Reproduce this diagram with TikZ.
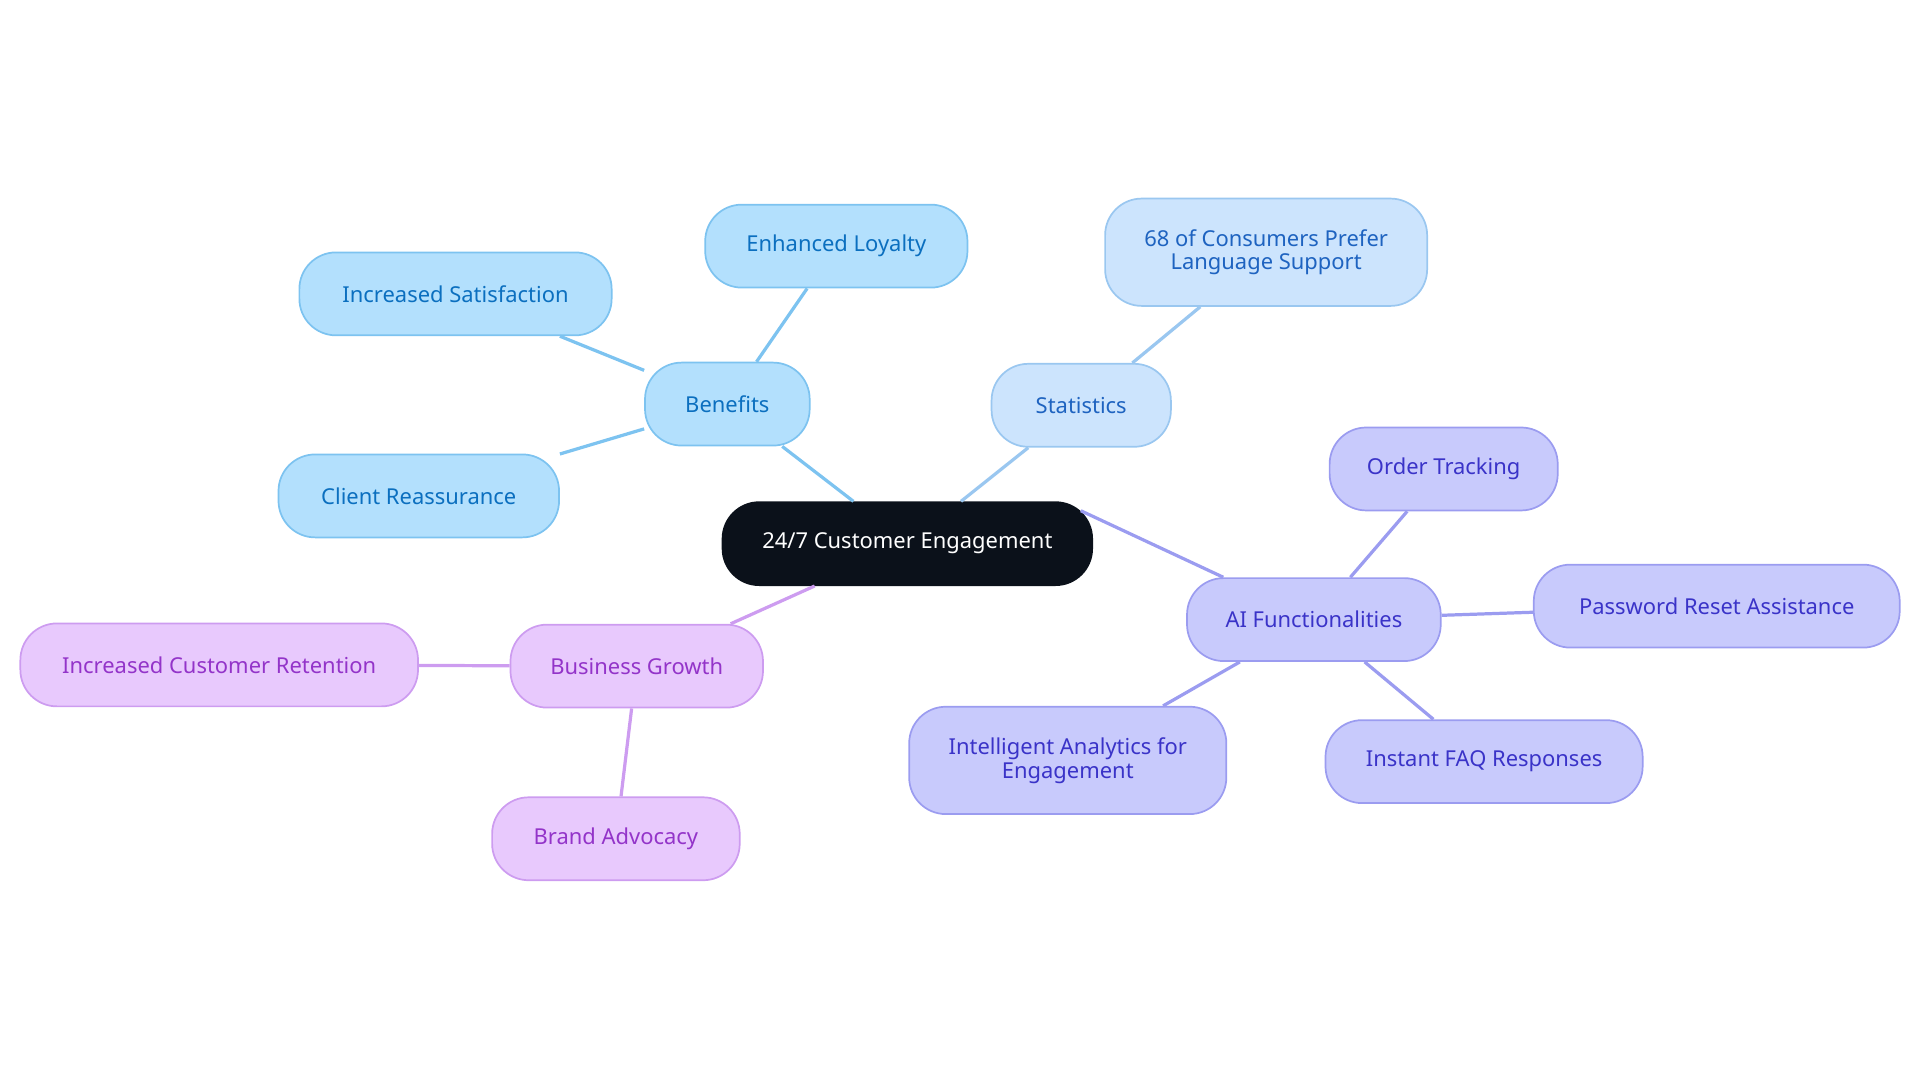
\documentclass[tikz,border=0pt]{standalone}
\usepackage{fontspec}
\setmainfont{Noto Sans}
\definecolor{bF}{HTML}{B3E0FD}\definecolor{bD}{HTML}{7DC3F0}\definecolor{bT}{HTML}{0B6FBF}
\definecolor{sF}{HTML}{CCE4FD}\definecolor{sD}{HTML}{9AC7F0}\definecolor{sT}{HTML}{1E63C0}
\definecolor{pF}{HTML}{C8CAFC}\definecolor{pD}{HTML}{9B9CF0}\definecolor{pT}{HTML}{3A33C8}
\definecolor{kF}{HTML}{E8C9FD}\definecolor{kD}{HTML}{CD9CF0}\definecolor{kT}{HTML}{9334C9}
\definecolor{cF}{HTML}{0B111A}
\begin{document}
\begin{tikzpicture}[x=0.02cm,y=-0.02cm,
 box/.style={rounded corners=30*0.567pt,draw,line width=0.8pt,align=center,font=\fontsize{10.2}{11}\selectfont,inner sep=0pt,minimum height=68*0.567pt},
 bb/.style={box,fill=bF,draw=bD,text=bT},
 ss/.style={box,fill=sF,draw=sD,text=sT},
 pp/.style={box,fill=pF,draw=pD,text=pT},
 kk/.style={box,fill=kF,draw=kD,text=kT},
 ln/.style={line width=1.5pt}]
\useasboundingbox (0,0) rectangle (1568,884);
\node[box,fill=cF,draw=cF,text=white,minimum width=303*0.567pt] (c) at (741,444) {24/7 Customer Engagement};
\node[bb,minimum width=135*0.567pt] (ben) at (594,330) {Benefits};
\node[bb,minimum width=215*0.567pt] (el) at (683,201) {Enhanced Loyalty};
\node[bb,minimum width=256*0.567pt] (is) at (372,240) {Increased Satisfaction};
\node[bb,minimum width=230*0.567pt] (cr) at (342,405) {Client Reassurance};
\node[ss,minimum width=147*0.567pt] (st) at (883,331) {Statistics};
\node[ss,minimum width=264*0.567pt,minimum height=88*0.567pt] (s68) at (1034,206) {68 of Consumers Prefer\\Language Support};
\node[pp,minimum width=208*0.567pt] (ai) at (1073,506) {AI Functionalities};
\node[pp,minimum width=187*0.567pt] (ot) at (1179,383) {Order Tracking};
\node[pp,minimum width=300*0.567pt] (pr) at (1402,495) {Password Reset Assistance};
\node[pp,minimum width=260*0.567pt] (fq) at (1212,622) {Instant FAQ Responses};
\node[pp,minimum width=260*0.567pt,minimum height=88*0.567pt] (ia) at (872,621) {Intelligent Analytics for\\Engagement};
\node[kk,minimum width=207*0.567pt] (bg) at (520,544) {Business Growth};
\node[kk,minimum width=326*0.567pt] (icr) at (179,543) {Increased Customer Retention};
\node[kk,minimum width=203*0.567pt] (ba) at (503,685) {Brand Advocacy};
\begin{scope}[on background layer/.style={}]
\end{scope}
\draw[ln,bD] (c.north west)++(108*0.567pt,0) coordinate (c1) -- (ben);
\begin{pgfinterruptboundingbox}\end{pgfinterruptboundingbox}
\draw[ln,bD] (ben) -- (el); \draw[ln,bD] (ben) -- (is); \draw[ln,bD] (ben) -- (cr);
\draw[ln,sD] (c.north) ++(44*0.567pt,0) coordinate (c2) -- (st); \draw[ln,sD] (st) -- (s68);
\draw[ln,pD] (c.east) ++(-10*0.567pt,27*0.567pt) coordinate (c3) -- (ai);
\draw[ln,pD] (ai) -- (ot); \draw[ln,pD] (ai) -- (pr); \draw[ln,pD] (ai) -- (fq); \draw[ln,pD] (ai) -- (ia);
\draw[ln,kD] (c.south) ++(-76*0.567pt,0) coordinate (c4) -- (bg);
\draw[ln,kD] (bg) -- (icr); \draw[ln,kD] (bg) -- (ba);
\end{tikzpicture}
\end{document}
